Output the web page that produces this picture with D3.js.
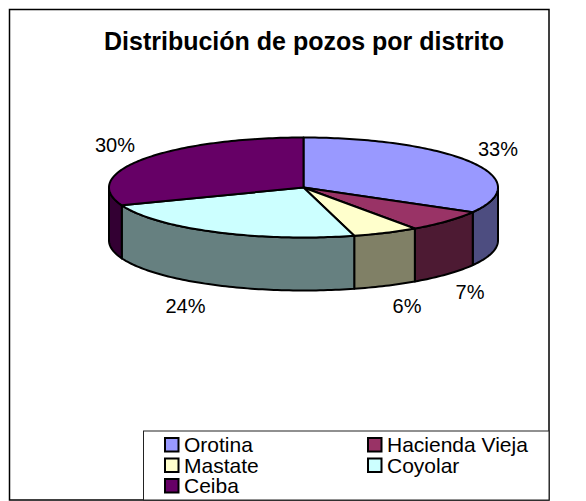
<!DOCTYPE html>
<html>
<head>
<meta charset="utf-8">
<script src="https://d3js.org/d3.v7.min.js"></script>
<style>
  html, body { margin: 0; padding: 0; background: #fff; }
  svg { display: block; }
  text { font-family: "Liberation Sans", Arial, sans-serif; fill: #000; }
</style>
</head>
<body>
<div id="chart"></div>
<script>
const title = 'Distribución de pozos por distrito';
const districts = ['Orotina', 'Hacienda Vieja', 'Mastate', 'Coyolar', 'Ceiba'];
// porcentajes, con un decimal estimado por el angulo de cada rebanada
const shares = [33.2, 7.1, 5.5, 23.4, 30.8];
const shareLabels = ['33%', '7%', '6%', '24%', '30%'];
const topColors = ['#9999ff', '#993366', '#ffffcc', '#ccffff', '#660066'];
const sideColors = ['#4d4d80', '#4d1a33', '#808066', '#668080', '#330033'];

const width = 586;
const height = 501;

// el "pastel" 3D es una elipse con una pared abajo
const cx = 303.5;
const cy = 187.5;
const rx = 194.5;
const ry = 50;
const depth = 53;

const svg = d3.select('#chart').append('svg')
  .attr('width', width)
  .attr('height', height);

// marco
svg.append('rect')
  .attr('x', 9.5)
  .attr('y', 9.5)
  .attr('width', 539.5)
  .attr('height', 490.5)
  .attr('fill', '#fff')
  .attr('stroke', '#000')
  .attr('stroke-width', 1.5);

svg.append('text')
  .attr('x', 304)
  .attr('y', 50)
  .attr('text-anchor', 'middle')
  .style('font-size', '25px')
  .style('font-weight', 700)
  .text(title);

const arcs = d3.pie().sort(null).value(d => d)(shares);

const px = a => cx + rx * Math.sin(a);
const py = a => cy - ry * Math.cos(a);

const line = d3.line();

function rimPoints(a0, a1, dy) {
  const n = Math.max(2, Math.ceil((a1 - a0) / 0.02));
  return d3.range(n + 1).map(i => {
    const a = a0 + (a1 - a0) * i / n;
    return [px(a), py(a) + dy];
  });
}

// paredes: solo la mitad de abajo se ve (PI/2 a 3PI/2)
const sides = svg.append('g').attr('stroke', '#000').attr('stroke-width', 2).attr('stroke-linejoin', 'round');
arcs.forEach((d, i) => {
  const a0 = Math.max(d.startAngle, Math.PI / 2);
  const a1 = Math.min(d.endAngle, Math.PI * 3 / 2);
  if (a1 <= a0) return;
  const pts = rimPoints(a0, a1, 0).concat(rimPoints(a0, a1, depth).reverse());
  sides.append('path')
    .attr('d', line(pts) + 'Z')
    .attr('fill', sideColors[i]);
});

const tops = svg.append('g').attr('stroke', '#000').attr('stroke-width', 2).attr('stroke-linejoin', 'round');
arcs.forEach((d, i) => {
  const pts = [[cx, cy]].concat(rimPoints(d.startAngle, d.endAngle, 0));
  tops.append('path')
    .attr('d', line(pts) + 'Z')
    .attr('fill', topColors[i]);
});

// etiquetas
const labelX = [498, 470, 407, 185.5, 115];
const labelY = [156, 299, 313, 313, 152];
svg.append('g').selectAll('text')
  .data(shareLabels)
  .join('text')
  .attr('x', (d, i) => labelX[i])
  .attr('y', (d, i) => labelY[i])
  .attr('text-anchor', 'middle')
  .style('font-size', '20px')
  .text(d => d);

// leyenda
svg.append('rect')
  .attr('x', 143.5)
  .attr('y', 431)
  .attr('width', 405.5)
  .attr('height', 69)
  .attr('fill', '#fff')
  .attr('stroke', '#222')
  .attr('stroke-width', 1);

const legendCol = [165, 368];
const legendRow = [445, 465.5, 486];
const legend = svg.append('g').selectAll('g')
  .data(districts)
  .join('g')
  .attr('transform', (d, i) => `translate(${legendCol[i % 2]},${legendRow[Math.floor(i / 2)]})`);
legend.append('rect')
  .attr('x', 0)
  .attr('y', -7)
  .attr('width', 13.5)
  .attr('height', 13.5)
  .attr('fill', (d, i) => topColors[i])
  .attr('stroke', '#000')
  .attr('stroke-width', 2);
legend.append('text')
  .attr('x', 19)
  .attr('y', 7)
  .style('font-size', '21px')
  .text(d => d);
</script>
</body>
</html>
